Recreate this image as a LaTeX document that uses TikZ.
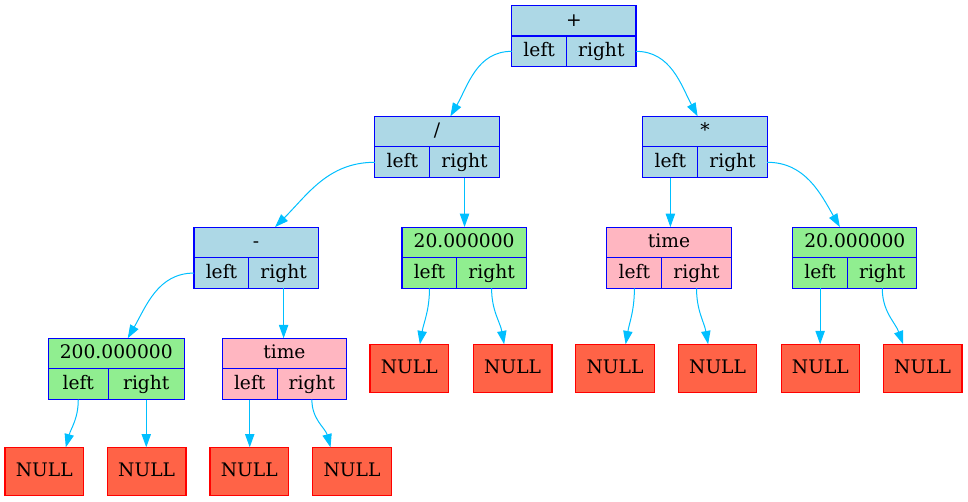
\documentclass[tikz,border=0pt]{standalone}
\usepackage{fontspec}
\setmainfont{DejaVu Serif}
\usetikzlibrary{arrows.meta}

\definecolor{lightblue}{HTML}{ADD8E6}
\definecolor{lightgreen}{HTML}{90EE90}
\definecolor{lightpink}{HTML}{FFB6C1}
\definecolor{tomato}{HTML}{FF6347}
\definecolor{deepsky}{HTML}{00BFFF}

\tikzset{
    field/.style = {draw=blue, line width=0.8pt, inner sep=0pt, outer sep=0pt,
        minimum height=23pt, text height=10.5pt, text depth=2.5pt,
        font=\fontsize{14}{16}\selectfont},
    nullbox/.style = {draw=red, fill=tomato, line width=0.8pt, inner sep=0pt, outer sep=0pt,
        minimum width=59pt, minimum height=36pt, text height=10.5pt, text depth=2.5pt,
        anchor=north west, font=\fontsize{14}{16}\selectfont},
    ptr/.style = {draw=deepsky, line width=0.75pt, -{Triangle[length=10pt,width=7pt]}}
}

% record: name, top left corner, width, width of left, label, colour
\newcommand{\record}[6]{%
    \node[field, fill=#6, minimum width=#3pt, anchor=north west] (#1) at (#2) {#5};
    \node[field, fill=#6, minimum width=#4pt, anchor=north west] (#1-l) at (#1.south west) {left};
    \node[field, fill=#6, minimum width={(#3-#4)*1pt}, anchor=north west] (#1-r) at (#1-l.north east) {right};
}

\begin{document}
\begin{tikzpicture}[x=1pt, y=1pt]
    \useasboundingbox (0,0) rectangle (726,-375.75);

    \record{plus}{383.8,-4}{93.2}{41.2}{+}{lightblue}
    \record{div}{281.2,-87.2}{93.2}{41.2}{/}{lightblue}
    \record{mul}{482.2,-87.2}{93.2}{41.2}{*}{lightblue}
    \record{minus}{145.5,-170.3}{93.2}{41.2}{-}{lightblue}
    \record{twenty}{301.5,-170.3}{93.2}{41.2}{20.000000}{lightgreen}
    \record{timeA}{455.2,-170.3}{93.2}{41.2}{time}{lightpink}
    \record{twentyB}{594.5,-170.3}{93.2}{41.2}{20.000000}{lightgreen}
    \record{twohundred}{36.2,-253.7}{102}{45}{200.000000}{lightgreen}
    \record{timeB}{166.7,-253.7}{93.2}{41.2}{time}{lightpink}

    % NULL leaves
    \node[nullbox] (n1) at (277.5,-258.2) {NULL};
    \node[nullbox] (n2) at (355,-258.2) {NULL};
    \node[nullbox] (n3) at (431.8,-258.2) {NULL};
    \node[nullbox] (n4) at (508.7,-258.2) {NULL};
    \node[nullbox] (n5) at (585.8,-258.2) {NULL};
    \node[nullbox] (n6) at (662.5,-258.2) {NULL};
    \node[nullbox] (n7) at (3.75,-335.5) {NULL};
    \node[nullbox] (n8) at (80.5,-335.5) {NULL};
    \node[nullbox] (n9) at (157.5,-335.5) {NULL};
    \node[nullbox] (n10) at (234.5,-335.5) {NULL};

    % pointers
    \draw[ptr] (plus-l.west) to[out=180,in=60] ([xshift=10pt]div.north);
    \draw[ptr] (plus-r.east) to[out=0,in=118] ([xshift=-5.6pt]mul.north);
    \draw[ptr] (div-l.west) to[out=180,in=45] ([xshift=14.2pt]minus.north);
    \draw[ptr] (div-r.south) -- (div-r.south |- twenty.north);
    \draw[ptr] (mul-l.south) -- (mul-l.south |- timeA.north);
    \draw[ptr] (mul-r.east) to[out=0,in=120] ([xshift=-11.2pt]twentyB.north);
    \draw[ptr] (minus-l.west) to[out=180,in=60] ([xshift=8.6pt]twohundred.north);
    \draw[ptr] (minus-r.south) -- (minus-r.south |- timeB.north);

    \draw[ptr] (twenty-l.south) to[out=-90,in=80] ([xshift=7.9pt]n1.north);
    \draw[ptr] (twenty-r.south) to[out=-90,in=100] ([xshift=-6.4pt]n2.north);
    \draw[ptr] (timeA-l.south) to[out=-90,in=80] ([xshift=7.9pt]n3.north);
    \draw[ptr] (timeA-r.south) to[out=-90,in=100] ([xshift=-7.1pt]n4.north);
    \draw[ptr] (twentyB-l.south) -- (twentyB-l.south |- n5.north);
    \draw[ptr] (twentyB-r.south) to[out=-90,in=110] ([xshift=-14.6pt]n6.north);
    \draw[ptr] (twohundred-l.south) to[out=-90,in=75] ([xshift=16.1pt]n7.north);
    \draw[ptr] (twohundred-r.south) -- (twohundred-r.south |- n8.north);
    \draw[ptr] (timeB-l.south) -- (timeB-l.south |- n9.north);
    \draw[ptr] (timeB-r.south) to[out=-90,in=105] ([xshift=-16.1pt]n10.north);
\end{tikzpicture}
\end{document}
